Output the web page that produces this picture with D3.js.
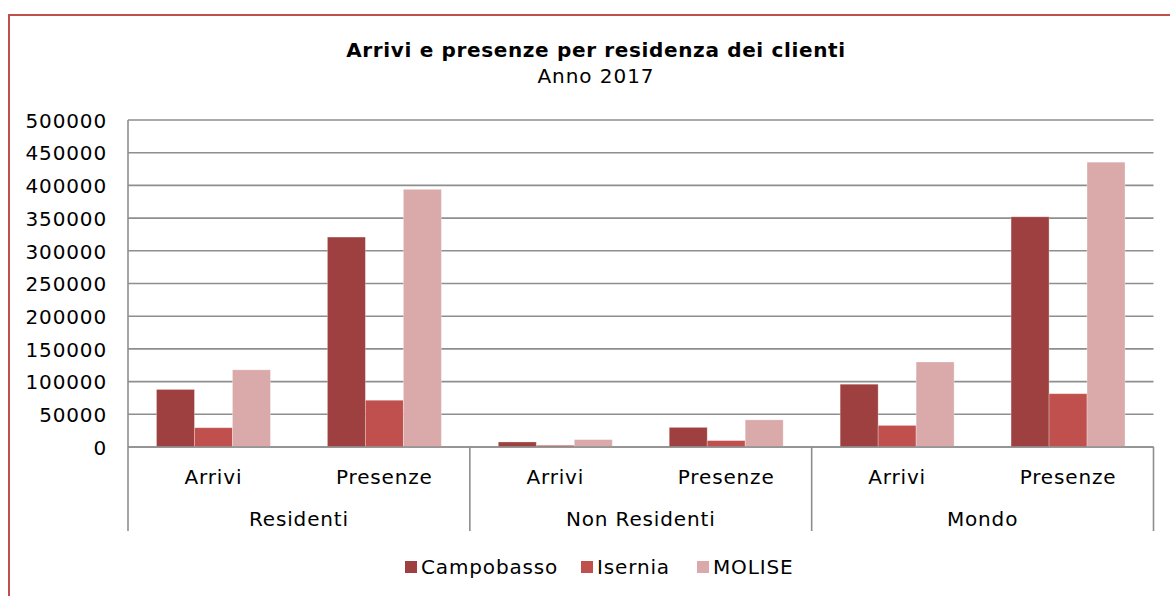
<!DOCTYPE html>
<html>
<head>
<meta charset="utf-8">
<script src="https://cdn.jsdelivr.net/npm/d3@7"></script>
<style>
  body { margin: 0; background: #fff; }
  svg text { font-family: "DejaVu Sans", Verdana, sans-serif; fill: #000; letter-spacing: 0.85px; }
</style>
</head>
<body>
<script>
// data
const groups = ["Residenti", "Non Residenti", "Mondo"];
const measures = ["Arrivi", "Presenze"];
const series = ["Campobasso", "Isernia", "MOLISE"];
const colors = ["#9e4040", "#c0504d", "#daaaaa"];

// values per group, in the order Arrivi, Presenze
const campobasso = [[88000, 321000], [7700, 30000], [96000, 352000]];
const isernia = [[29500, 71500], [2600, 9800], [33000, 81500]];
const molise = [[118000, 394000], [11300, 41500], [130000, 435500]];
const yTicks = [0, 50000, 100000, 150000, 200000, 250000, 300000, 350000, 400000, 450000, 500000];

const values = [campobasso, isernia, molise];

const W = 1170, H = 596;
const plotL = 128, plotR = 1153.5, plotT = 120, plotB = 447, axisB = 531;

const svg = d3.select("body").append("svg").attr("width", W).attr("height", H);

// frame
svg.append("rect")
  .attr("x", 9).attr("y", 15).attr("width", 1180).attr("height", 600)
  .attr("fill", "none").attr("stroke", "#c0504d").attr("stroke-width", 2);

// title
svg.append("text").attr("x", 596).attr("y", 57).attr("text-anchor", "middle")
  .style("font-weight", "bold").style("font-size", "20px").style("letter-spacing", "0.65px")
  .text("Arrivi e presenze per residenza dei clienti");
svg.append("text").attr("x", 596).attr("y", 83).attr("text-anchor", "middle")
  .style("font-size", "20px").style("letter-spacing", "0.95px").text("Anno 2017");

const y = d3.scaleLinear().domain([0, 500000]).range([plotB, plotT]);
const x0 = d3.scaleBand().domain(groups).range([plotL, plotR]);
const x1 = d3.scaleBand().domain(measures).range([0, x0.bandwidth()]);
const x2 = d3.scaleBand().domain(series).range([0, x1.bandwidth()])
  .paddingInner(0).paddingOuter(0.75);

// gridlines
svg.append("g").selectAll("line").data(yTicks).join("line")
  .attr("x1", plotL).attr("x2", plotR)
  .attr("y1", d => y(d)).attr("y2", d => y(d))
  .attr("stroke", "#8e8e8e").attr("stroke-width", 1.6);

// y axis labels
const yAxis = d3.axisLeft(y).tickValues(yTicks).tickSize(0).tickPadding(21).tickFormat(d3.format("d"));
const gy = svg.append("g").attr("transform", "translate(" + plotL + ",0)").call(yAxis);
gy.select(".domain").remove();
gy.selectAll("text").style("font-size", "20px").attr("dy", "0.36em");

// bars
const rows = [];
groups.forEach((g, gi) => measures.forEach((m, mi) => series.forEach((s, si) => {
  rows.push({ g: g, m: m, s: s, si: si, v: values[si][gi][mi] });
})));

svg.append("g").selectAll("rect").data(rows).join("rect")
  .attr("x", d => x0(d.g) + x1(d.m) + x2(d.s))
  .attr("y", d => y(d.v))
  .attr("width", x2.bandwidth())
  .attr("height", d => y(0) - y(d.v))
  .attr("fill", d => colors[d.si])
  .attr("stroke", "#fff").attr("stroke-opacity", 0.35).attr("stroke-width", 0.8);

// category axis
const gx = svg.append("g");
gx.append("line").attr("x1", plotL).attr("x2", plotR).attr("y1", plotB).attr("y2", plotB)
  .attr("stroke", "#8e8e8e").attr("stroke-width", 1.6);
const bounds = groups.map(g => x0(g)).concat([plotR]);
gx.selectAll("line.sep").data(bounds).join("line").attr("class", "sep")
  .attr("x1", d => d).attr("x2", d => d)
  .attr("y1", (d, i) => i === 0 ? plotT : plotB).attr("y2", axisB)
  .attr("stroke", "#8e8e8e").attr("stroke-width", 1.6);

const subs = [];
groups.forEach(g => measures.forEach(m => subs.push({ g: g, m: m })));
gx.selectAll("text.sub").data(subs).join("text").attr("class", "sub")
  .attr("x", d => x0(d.g) + x1(d.m) + x1.bandwidth() / 2)
  .attr("y", 484).attr("text-anchor", "middle").style("font-size", "20px")
  .text(d => d.m);
gx.selectAll("text.grp").data(groups).join("text").attr("class", "grp")
  .attr("x", d => x0(d) + x0.bandwidth() / 2)
  .attr("y", 526).attr("text-anchor", "middle").style("font-size", "20px")
  .text(d => d);

// legend
const legendX = [405, 581, 697];
const lg = svg.append("g").selectAll("g").data(series).join("g")
  .attr("transform", (d, i) => "translate(" + legendX[i] + ",561)");
lg.append("rect").attr("width", 12).attr("height", 12).attr("fill", (d, i) => colors[i]);
lg.append("text").attr("x", 16).attr("y", 12.5).style("font-size", "20px").text(d => d);
</script>
</body>
</html>
